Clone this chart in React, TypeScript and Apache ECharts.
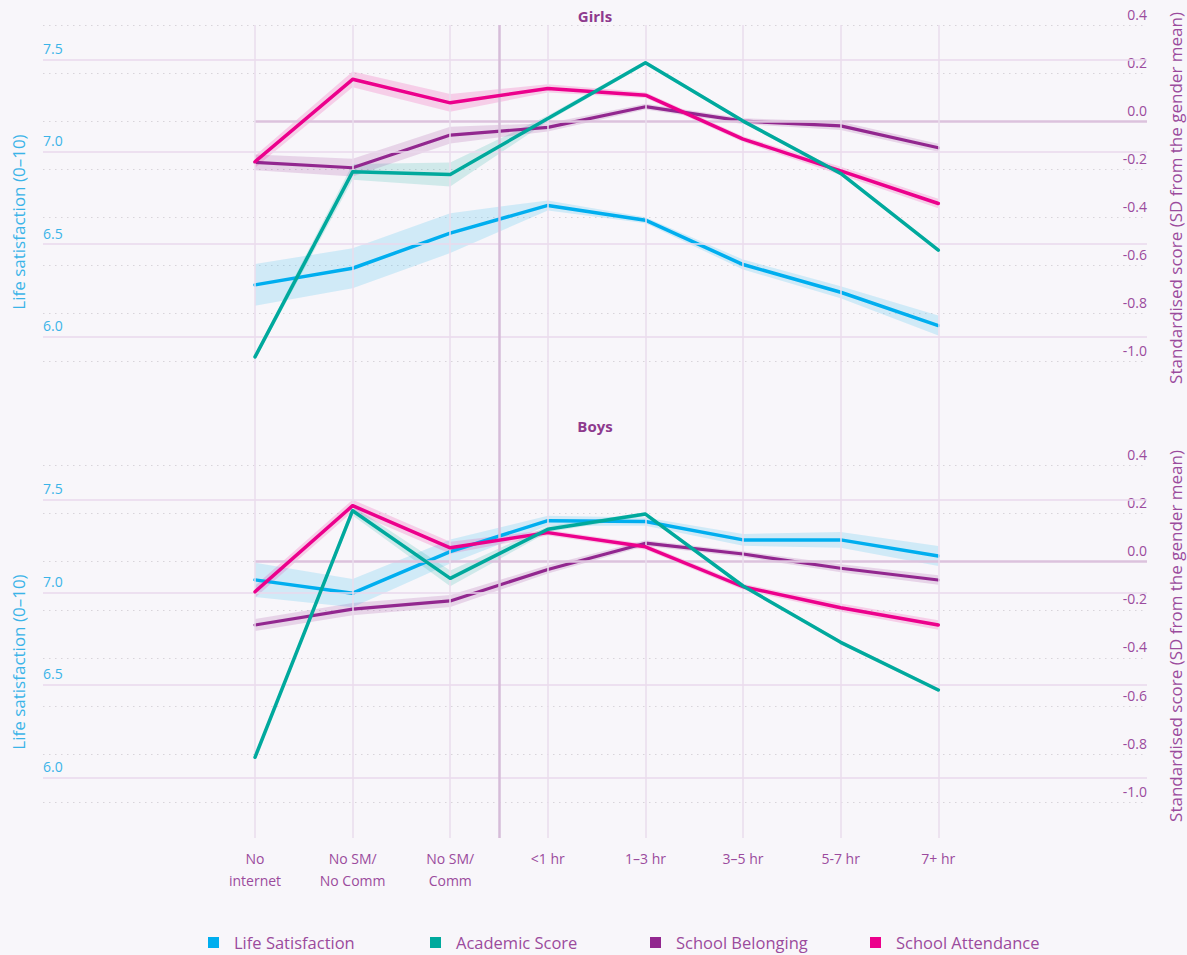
import React, { useEffect, useRef } from 'react';
import * as echarts from 'echarts';

const categories = ['No\ninternet', 'No SM/\nNo Comm', 'No SM/\nComm', '<1 hr', '1–3 hr', '3–5 hr', '5-7 hr', '7+ hr'];
const seriesNames = ['Life Satisfaction', 'Academic Score', 'School Belonging', 'School Attendance'];
const lifeTicks = [6.0, 6.5, 7.0, 7.5];

// Girls
const girlsLife = [6.28, 6.37, 6.56, 6.71, 6.63, 6.39, 6.24, 6.06];
const girlsLifeCI = [0.113, 0.108, 0.108, 0.027, 0.016, 0.027, 0.032, 0.054];
const girlsAcademic = [-0.981, -0.211, -0.222, 0.011, 0.243, 0.0, -0.218, -0.537];
const girlsAcademicCI = [0.012, 0.033, 0.05, 0.012, 0.008, 0.008, 0.008, 0.008];
const girlsBelonging = [-0.172, -0.194, -0.058, -0.026, 0.06, 0.0, -0.02, -0.111];
const girlsBelongingCI = [0.033, 0.037, 0.035, 0.017, 0.012, 0.012, 0.017, 0.017];
const girlsAttendance = [-0.169, 0.174, 0.076, 0.136, 0.108, -0.075, -0.207, -0.343];
const girlsAttendanceCI = [0.025, 0.033, 0.037, 0.017, 0.012, 0.012, 0.017, 0.02];

// Boys
const boysLife = [7.068, 6.996, 7.221, 7.388, 7.383, 7.284, 7.284, 7.197];
const boysLifeCI = [0.092, 0.076, 0.065, 0.027, 0.022, 0.032, 0.043, 0.054];
const boysAcademic = [-0.813, 0.212, -0.069, 0.135, 0.198, -0.101, -0.335, -0.533];
const boysAcademicCI = [0.008, 0.02, 0.033, 0.012, 0.008, 0.008, 0.008, 0.008];
const boysBelonging = [-0.263, -0.197, -0.163, -0.032, 0.077, 0.032, -0.027, -0.076];
const boysBelongingCI = [0.025, 0.025, 0.025, 0.017, 0.012, 0.012, 0.017, 0.02];
const boysAttendance = [-0.125, 0.233, 0.058, 0.121, 0.062, -0.104, -0.191, -0.263];
const boysAttendanceCI = [0.025, 0.025, 0.025, 0.012, 0.012, 0.012, 0.017, 0.02];

const COLORS = ['#00aeef', '#00a99d', '#92278f', '#ec008c'];
const BANDS = ['rgba(0,174,239,0.16)', 'rgba(0,169,157,0.16)', 'rgba(146,39,143,0.16)', 'rgba(236,0,140,0.16)'];
const LEGEND_LEFT = [203, 425, 645, 865];
const FONT = '"Open Sans", sans-serif';
const CYAN_TXT = '#3bb4e8';
const PURPLE_TXT = '#9b4b9d';
const X_MIN = -2.172;
const X_MAX = 9.138;

function lineSeries(name: string, values: number[], color: string, xi: number, yi: number, width: number, z: number) {
  return {
    type: 'line', name, xAxisIndex: xi, yAxisIndex: yi, z,
    data: values.map((v, i) => [i, v]),
    symbol: 'none', silent: true,
    lineStyle: { color, width, join: 'round', cap: 'round' },
    itemStyle: { color },
  };
}

function bandSeries(name: string, mean: number[], ci: number[], fill: string, xi: number, yi: number) {
  return {
    type: 'custom', name, xAxisIndex: xi, yAxisIndex: yi, z: 2, silent: true,
    data: [[0, mean[0]]],
    renderItem: (_p: any, api: any) => {
      const upper = mean.map((v, i) => api.coord([i, v + ci[i]]));
      const lower = mean.map((v, i) => api.coord([i, v - ci[i]])).reverse();
      return { type: 'polygon', shape: { points: upper.concat(lower) }, style: { fill } };
    },
  };
}

function panelSeries(xi: number, yl: number, yr: number, life: number[], lifeCI: number[], ac: number[], acCI: number[], be: number[], beCI: number[], at: number[], atCI: number[]) {
  return [
    lineSeries(seriesNames[0], life, COLORS[0], xi, yl, 3.5, 4),
    lineSeries(seriesNames[2], be, COLORS[2], xi, yr, 3.2, 4),
    lineSeries(seriesNames[3], at, COLORS[3], xi, yr, 3.5, 5),
    lineSeries(seriesNames[1], ac, COLORS[1], xi, yr, 3.5, 6),
    bandSeries(seriesNames[0], life, lifeCI, BANDS[0], xi, yl),
    bandSeries(seriesNames[1], ac, acCI, BANDS[1], xi, yr),
    bandSeries(seriesNames[2], be, beCI, BANDS[2], xi, yr),
    bandSeries(seriesNames[3], at, atCI, BANDS[3], xi, yr),
    {
      type: 'line', xAxisIndex: xi, yAxisIndex: yl, data: [], z: 1, silent: true,
      markLine: {
        symbol: 'none', silent: true, animation: false, label: { show: false },
        lineStyle: { color: '#ead9ec', width: 1.5, type: 'solid' },
        data: lifeTicks.map((v) => ({ yAxis: v })),
      },
    },
    {
      type: 'line', xAxisIndex: xi, yAxisIndex: yr, data: [], z: 1, silent: true,
      markLine: {
        symbol: 'none', silent: true, animation: false, label: { show: false },
        lineStyle: { color: '#dcc2dd', width: 2.5, type: 'solid' },
        data: [[{ coord: [0, 0] }, { coord: [X_MAX, 0] }]],
      },
    },
  ];
}

function leftAxis(gi: number) {
  return {
    type: 'value', gridIndex: gi, position: 'left', min: 5.866, max: 7.686,
    axisLine: { show: false }, axisTick: { show: false }, splitLine: { show: false },
    axisLabel: {
      inside: true, customValues: lifeTicks, margin: 0, align: 'left', verticalAlign: 'bottom',
      padding: [0, 0, 4, 0], color: CYAN_TXT, fontSize: 14, fontFamily: FONT,
      formatter: (v: number) => v.toFixed(1),
    },
  };
}

function rightAxis(gi: number) {
  return {
    type: 'value', gridIndex: gi, position: 'right', min: -1.0, max: 0.4, interval: 0.2,
    axisLine: { show: false }, axisTick: { show: false },
    splitLine: { show: true, lineStyle: { color: '#d8d4da', width: 1, type: [1.5, 4.5] } },
    axisLabel: {
      inside: true, margin: 0, align: 'right', verticalAlign: 'bottom',
      padding: [0, 0, 4, 0], color: PURPLE_TXT, fontSize: 14, fontFamily: FONT,
      formatter: (v: number) => v.toFixed(1),
    },
  };
}

function hiddenX(gi: number) {
  return { type: 'value', gridIndex: gi, min: X_MIN, max: X_MAX, show: false };
}

export default function App() {
  const ref = useRef<HTMLDivElement>(null);
  useEffect(() => {
    document.body.style.margin = '0';
    const chart = echarts.init(ref.current!, undefined, { renderer: 'svg' });
    const catIdx = categories.map((_, i) => i);
    const nameFont = `17px ${FONT}`;
    const option: any = {
      animation: false,
      backgroundColor: '#f8f6fa',
      grid: [
        { left: 43, top: 25, width: 1104, height: 336.4 },
        { left: 43, top: 465.5, width: 1104, height: 336.8 },
        { left: 43, top: 25, width: 1104, height: 813 },
      ],
      xAxis: [
        hiddenX(0),
        hiddenX(1),
        {
          type: 'value', gridIndex: 2, min: X_MIN, max: X_MAX,
          axisLine: { show: false }, axisTick: { show: false }, splitLine: { show: false },
          axisLabel: {
            customValues: catIdx, margin: 9, color: PURPLE_TXT, fontSize: 14, fontFamily: FONT,
            lineHeight: 22, align: 'center',
            formatter: (v: number) => categories[Math.round(v)] ?? '',
          },
        },
      ],
      yAxis: [
        leftAxis(0), rightAxis(0), leftAxis(1), rightAxis(1),
        { type: 'value', gridIndex: 2, min: 0, max: 1, show: false },
      ],
      legend: seriesNames.map((n, i) => ({
        left: LEGEND_LEFT[i], top: 929, itemWidth: 11, itemHeight: 11, icon: 'rect',
        selectedMode: false, padding: 5,
        textStyle: { color: PURPLE_TXT, fontSize: 16.5, fontFamily: FONT, padding: [0, 0, 0, 10] },
        data: [{ name: n, itemStyle: { color: COLORS[i] } }],
      })),
      graphic: [
        { type: 'text', x: 595, y: 16, style: { text: 'Girls', fill: '#8e3a8e', font: `bold 15px ${FONT}`, textAlign: 'center', textVerticalAlign: 'middle' } },
        { type: 'text', x: 595, y: 426, style: { text: 'Boys', fill: '#8e3a8e', font: `bold 15px ${FONT}`, textAlign: 'center', textVerticalAlign: 'middle' } },
        { type: 'text', x: 18, y: 222, rotation: Math.PI / 2, style: { text: 'Life satisfaction (0–10)', fill: CYAN_TXT, font: nameFont, textAlign: 'center', textVerticalAlign: 'middle' } },
        { type: 'text', x: 18, y: 662, rotation: Math.PI / 2, style: { text: 'Life satisfaction (0–10)', fill: CYAN_TXT, font: nameFont, textAlign: 'center', textVerticalAlign: 'middle' } },
        { type: 'text', x: 1175, y: 198, rotation: Math.PI / 2, style: { text: 'Standardised score (SD from the gender mean)', fill: PURPLE_TXT, font: nameFont, textAlign: 'center', textVerticalAlign: 'middle' } },
        { type: 'text', x: 1175, y: 636, rotation: Math.PI / 2, style: { text: 'Standardised score (SD from the gender mean)', fill: PURPLE_TXT, font: nameFont, textAlign: 'center', textVerticalAlign: 'middle' } },
      ],
      series: [
        ...panelSeries(0, 0, 1, girlsLife, girlsLifeCI, girlsAcademic, girlsAcademicCI, girlsBelonging, girlsBelongingCI, girlsAttendance, girlsAttendanceCI),
        ...panelSeries(1, 2, 3, boysLife, boysLifeCI, boysAcademic, boysAcademicCI, boysBelonging, boysBelongingCI, boysAttendance, boysAttendanceCI),
        {
          type: 'line', xAxisIndex: 2, yAxisIndex: 4, data: [], z: 0, silent: true,
          markLine: {
            symbol: 'none', silent: true, animation: false, label: { show: false },
            lineStyle: { color: '#eadcec', width: 1.5, type: 'solid' },
            data: [
              ...catIdx.map((i) => ({ xAxis: i })),
              { xAxis: 2.5, lineStyle: { color: '#d6bcd9', width: 2.5, type: 'solid' } },
            ],
          },
        },
      ],
    };
    chart.setOption(option);
    return () => chart.dispose();
  }, []);
  return <div ref={ref} style={{ width: 1187, height: 955 }} />;
}
